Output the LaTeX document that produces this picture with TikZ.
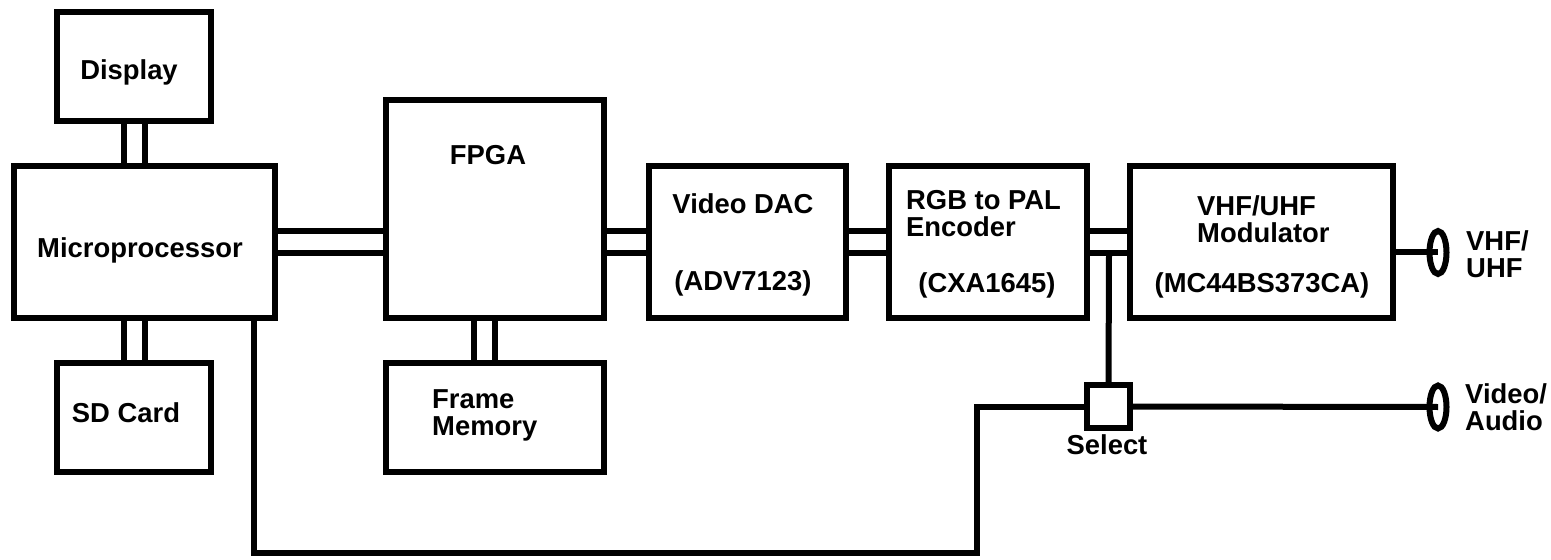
\documentclass[tikz,border=0pt]{standalone}
\usepackage{fontspec}
\setmainfont{Liberation Sans}
\usetikzlibrary{shapes.geometric}

\tikzset{
  blk/.style={draw, line width=6bp, inner sep=0pt, outer sep=0pt},
  lbl/.style={font=\bfseries\fontsize{27.5}{27}\selectfont, inner sep=0pt, align=left},
  wire/.style={line width=6bp},
  jack/.style={draw, ellipse, line width=6bp, minimum width=17bp, minimum height=43bp, inner sep=0pt, outer sep=0pt},
}

\begin{document}
\begin{tikzpicture}[x=1bp, y=-1bp]
\useasboundingbox (0,0) rectangle (1551,560);

% blocks
\node[blk, minimum width=154bp, minimum height=109bp] (disp) at (134, 66.5) {};
\node[blk, minimum width=261bp, minimum height=152bp] (mcu) at (144.5, 242) {};
\node[blk, minimum width=154bp, minimum height=109bp] (sd) at (134, 417.5) {};
\node[blk, minimum width=218bp, minimum height=218bp] (fpga) at (495, 209) {};
\node[blk, minimum width=218bp, minimum height=109bp] (fmem) at (495, 417.5) {};
\node[blk, minimum width=197bp, minimum height=152bp] (dac) at (747.5, 242) {};
\node[blk, minimum width=198bp, minimum height=152bp] (enc) at (988, 242) {};
\node[blk, minimum width=263bp, minimum height=152bp] (mod) at (1261.5, 242) {};
\node[blk, minimum width=43bp, minimum height=43bp] (sel) at (1108.5, 406.5) {};
\node[jack] (rfjack) at (1438, 252.5) {};
\node[jack] (avjack) at (1438, 407) {};

% labels
\node[lbl] (dispT) at (129, 72) {Display};
\node[lbl] (mcuT) at (140, 250) {Microprocessor};
\node[lbl] (sdT) at (126, 413) {SD Card};
\node[lbl] (fpgaT) at (488, 155) {FPGA};
\node[lbl, anchor=west] (fmemT) at (432, 415) {Frame\\Memory};
\node[lbl] (dacT) at (743, 204) {Video DAC};
\node[lbl] (dacP) at (743, 283) {(ADV7123)};
\node[lbl, anchor=west] (encT) at (906, 214) {RGB to PAL\\Encoder};
\node[lbl] (encP) at (987, 285) {(CXA1645)};
\node[lbl, anchor=west] (modT) at (1197, 219) {VHF/UHF\\Modulator};
\node[lbl] (modP) at (1262, 285) {(MC44BS373CA)};
\node[lbl] (selT) at (1107, 445) {Select};
\node[lbl, anchor=west] (rfT) at (1466, 254) {VHF/\\UHF};
\node[lbl, anchor=west] (avT) at (1465, 407) {Video/\\Audio};

% bus rails
\coordinate (busA) at (0, 231.5);
\coordinate (busB) at (0, 253);
\coordinate (colA) at (124, 0);
\coordinate (colB) at (145, 0);
\coordinate (colC) at (474, 0);
\coordinate (colD) at (495, 0);
\coordinate (tap) at (1109, 0);
\coordinate (drop) at (254, 553);
\coordinate (rise) at (977, 553);

% double buses
\foreach \r in {busA, busB} {
  \draw[wire] (mcu.east |- \r) -- (fpga.west |- \r);
  \draw[wire] (fpga.east |- \r) -- (dac.west |- \r);
  \draw[wire] (dac.east |- \r) -- (enc.west |- \r);
  \draw[wire] (enc.east |- \r) -- (mod.west |- \r);
}
\foreach \c in {colA, colB} {
  \draw[wire] (disp.south -| \c) -- (mcu.north -| \c);
  \draw[wire] (mcu.south -| \c) -- (sd.north -| \c);
}
\foreach \c in {colC, colD}
  \draw[wire] (fpga.south -| \c) -- (fmem.north -| \c);

% single wires
\draw[wire] (tap |- busB) -- (sel.north);
\draw[wire] (mcu.south -| drop) -- (drop) -- (rise) -- (rise |- sel.west) -- (sel.west);
\draw[wire] (sel.east) -- (avjack.center);
\draw[wire] (mod.east |- rfjack) -- (rfjack.center);
\end{tikzpicture}
\end{document}
